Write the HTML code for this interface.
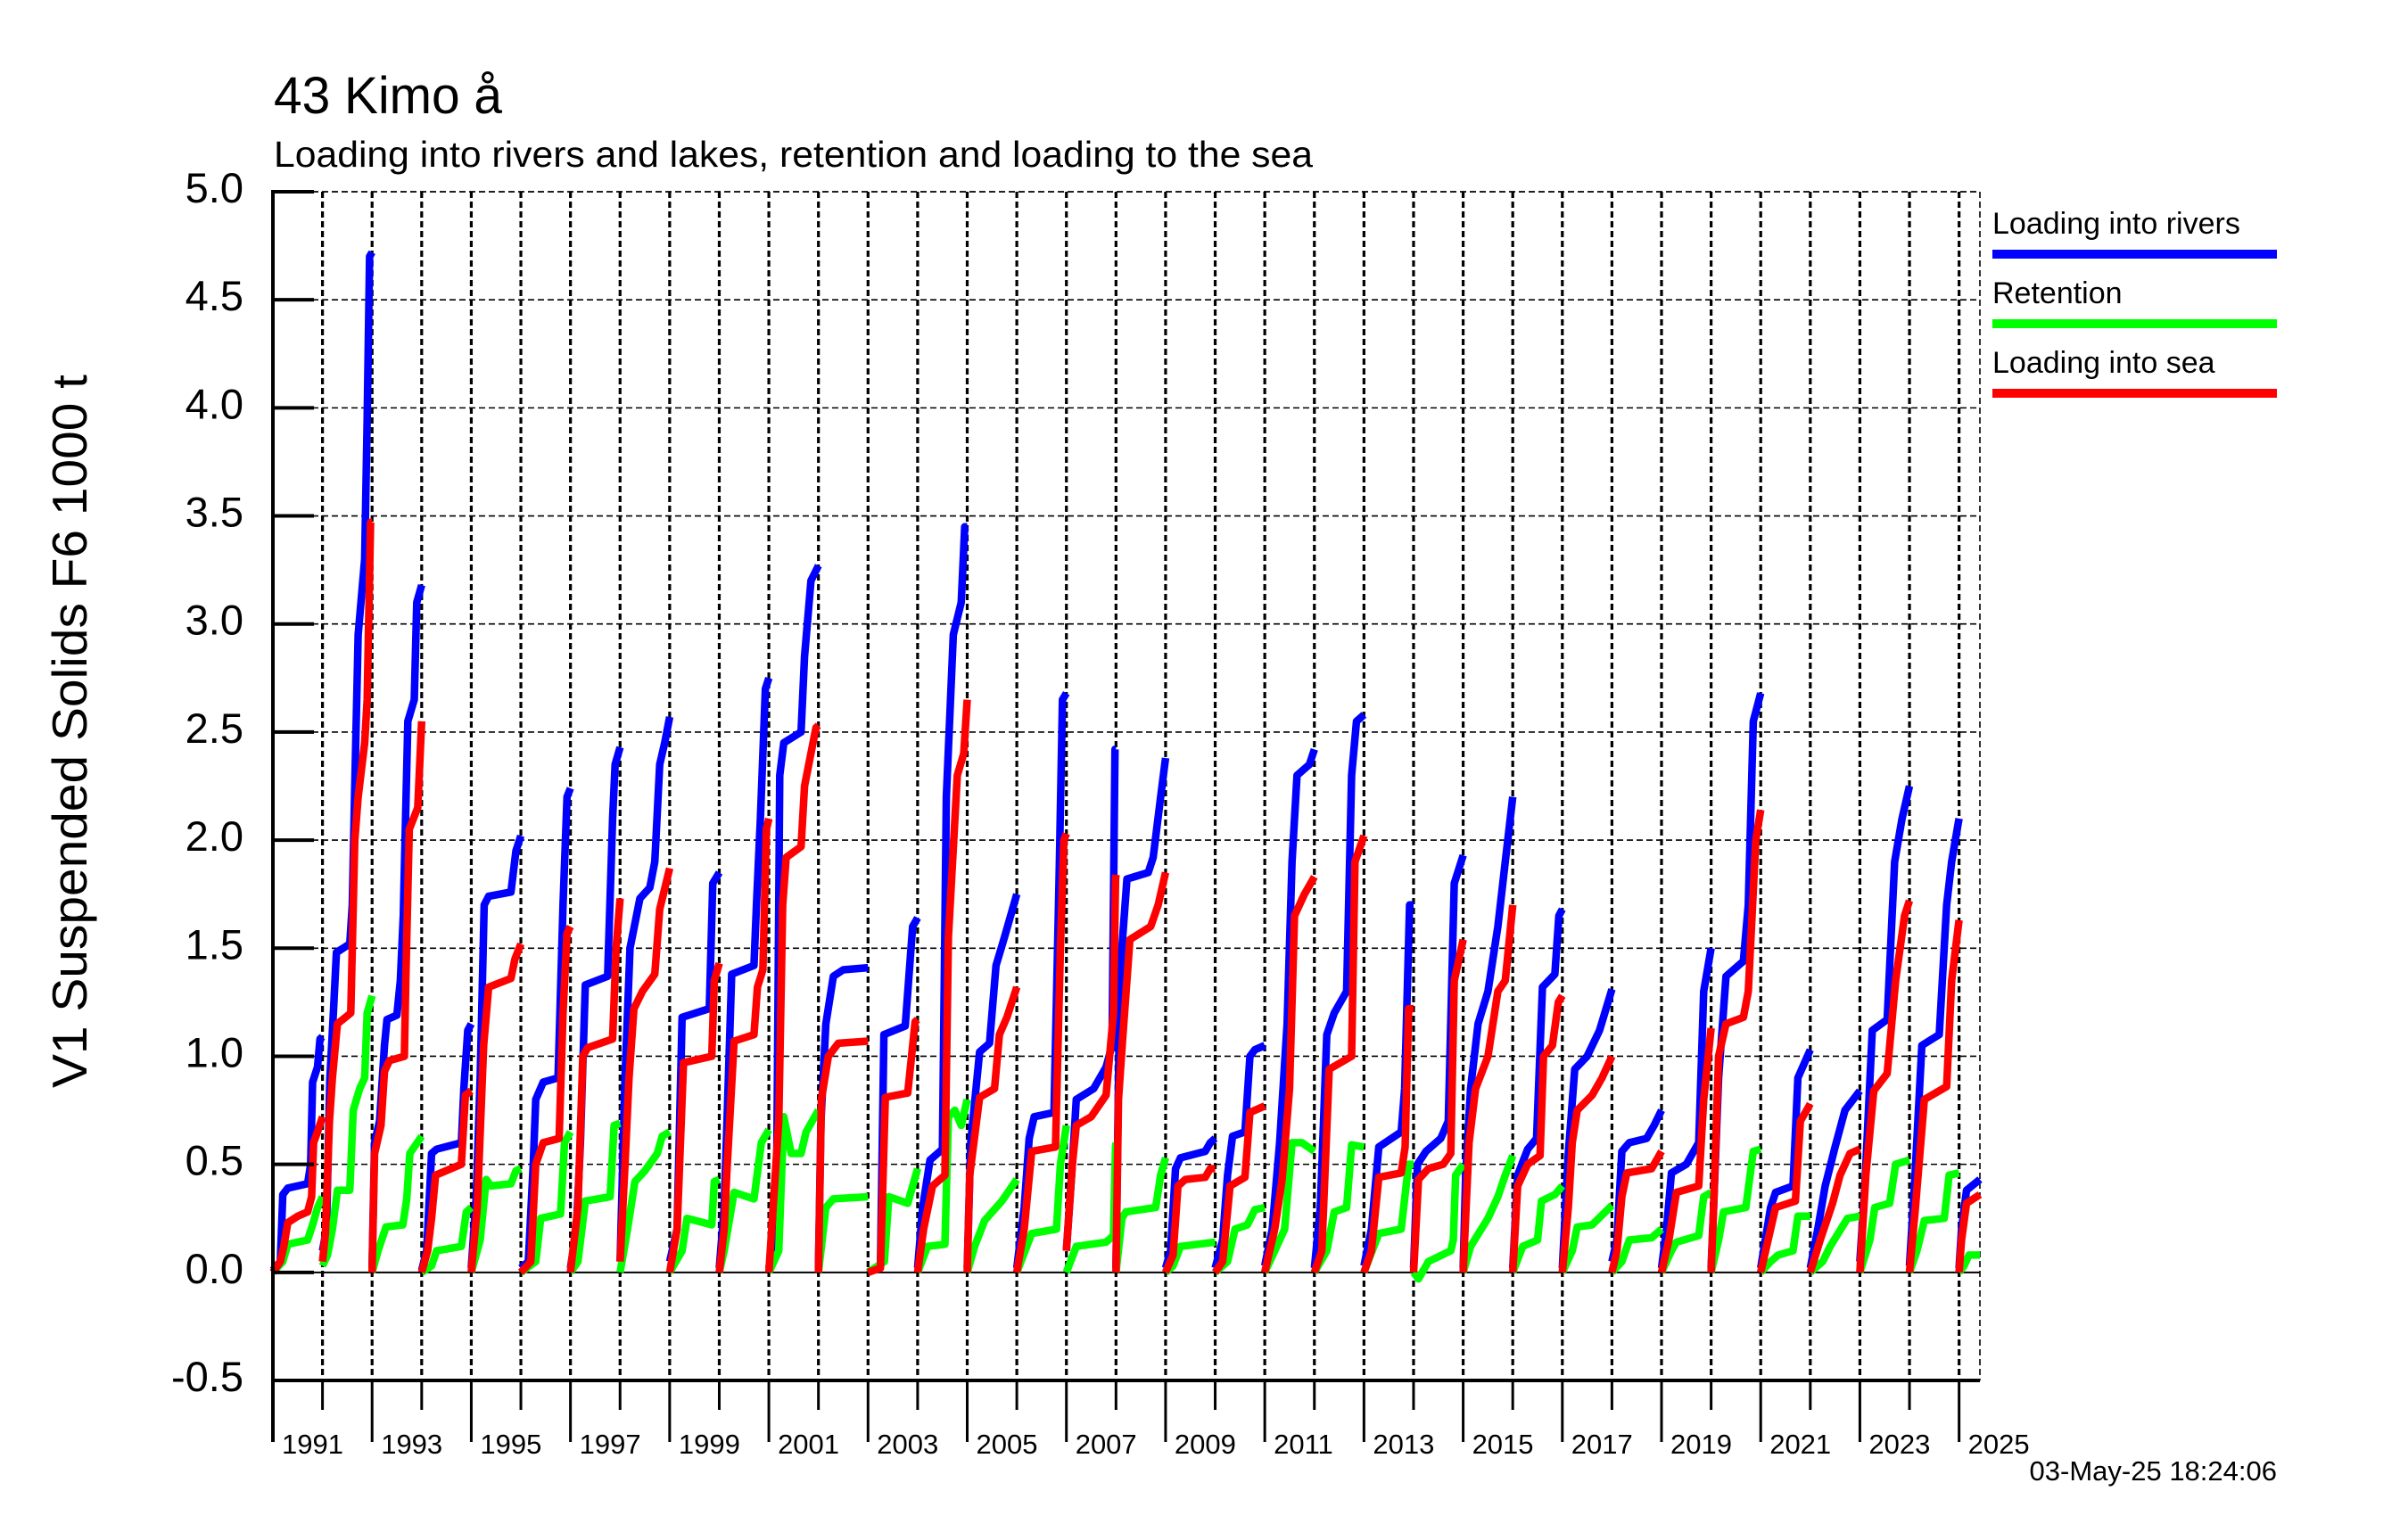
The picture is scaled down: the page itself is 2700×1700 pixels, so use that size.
<!DOCTYPE html>
<html>
<head>
<meta charset="utf-8">
<style>
html,body{margin:0;padding:0;background:#fff;}
svg{display:block;font-family:"Liberation Sans",Arial,sans-serif;}
</style>
</head>
<body>
<svg id="chart" width="2700" height="1700" viewBox="0 0 2700 1700" xmlns="http://www.w3.org/2000/svg">
  <rect x="0" y="0" width="2700" height="1700" fill="#fff"/>
  <text x="307" y="127" font-size="58" fill="#000" textLength="256" lengthAdjust="spacingAndGlyphs">43 Kimo å</text>
  <text x="307" y="187" font-size="41" fill="#000" textLength="1165" lengthAdjust="spacingAndGlyphs">Loading into rivers and lakes, retention and loading to the sea</text>
  <text transform="translate(97,820) rotate(-90)" text-anchor="middle" font-size="55" fill="#000" textLength="800" lengthAdjust="spacingAndGlyphs">V1 Suspended Solids F6 1000 t</text>
  <g id="grid"></g>
  <g id="series"></g>
  <g id="axes"></g>
  <g>
    <text x="2234" y="262" font-size="34" fill="#000">Loading into rivers</text>
    <rect x="2234" y="280" width="319" height="10" fill="#0000ff"/>
    <text x="2234" y="340" font-size="34" fill="#000">Retention</text>
    <rect x="2234" y="358" width="319" height="10" fill="#00ff00"/>
    <text x="2234" y="418" font-size="34" fill="#000">Loading into sea</text>
    <rect x="2234" y="436" width="319" height="10" fill="#ff0000"/>
  </g>
  <text x="2553" y="1660" text-anchor="end" font-size="31" fill="#000">03-May-25 18:24:06</text>
</svg>
<script>
// ---- data ----
const years = [1991,1992,1993,1994,1995,1996,1997,1998,1999,2000,2001,2002,2003,2004,2005,2006,2007,2008,2009,2010,2011,2012,2013,2014,2015,2016,2017,2018,2019,2020,2021,2022,2023,2024,2025];
const yTickValues = [-0.5,0.0,0.5,1.0,1.5,2.0,2.5,3.0,3.5,4.0,4.5,5.0];
const yTickLabels = ["-0.5","0.0","0.5","1.0","1.5","2.0","2.5","3.0","3.5","4.0","4.5","5.0"];
const xLabelYears = [1991,1993,1995,1997,1999,2001,2003,2005,2007,2009,2011,2013,2015,2017,2019,2021,2023,2025];
const xStart = 1991, xEnd = 2025.42;

// per-year cumulative series: [fraction of year, value in 1000 t]
const blueData = [
[[0,0.01],[0.15,0.05],[0.2,0.36],[0.3,0.39],[0.7,0.41],[0.76,0.5],[0.8,0.88],[0.9,0.95],[0.95,1.08],[1,1.09]],
[[0,0.1],[0.08,0.2],[0.15,0.9],[0.22,1.2],[0.28,1.48],[0.55,1.52],[0.6,1.7],[0.65,2.25],[0.72,2.95],[0.85,3.3],[0.9,3.95],[0.95,4.7],[1,4.72]],
[[0,0.02],[0.05,0.6],[0.15,0.7],[0.25,1.05],[0.3,1.17],[0.5,1.19],[0.57,1.35],[0.63,1.65],[0.72,2.55],[0.85,2.65],[0.9,3.1],[1,3.18]],
[[0,0.01],[0.1,0.1],[0.2,0.55],[0.3,0.57],[0.8,0.6],[0.85,0.85],[0.93,1.12],[1,1.15]],
[[0,0.02],[0.1,0.35],[0.18,0.9],[0.26,1.7],[0.35,1.74],[0.8,1.76],[0.9,1.95],[1,2.02]],
[[0,0.02],[0.15,0.05],[0.25,0.5],[0.3,0.8],[0.45,0.88],[0.75,0.9],[0.85,1.7],[0.93,2.2],[1,2.24]],
[[0,0.02],[0.12,0.2],[0.2,0.6],[0.3,1.33],[0.75,1.37],[0.85,2.1],[0.9,2.35],[1,2.43]],
[[0,0.05],[0.1,0.9],[0.2,1.5],[0.4,1.73],[0.6,1.78],[0.7,1.9],[0.8,2.35],[0.9,2.45],[1,2.57]],
[[0,0.05],[0.15,0.2],[0.25,1.18],[0.8,1.22],[0.87,1.8],[1,1.85]],
[[0,0.02],[0.1,0.3],[0.15,0.65],[0.25,1.38],[0.7,1.42],[0.75,1.7],[0.83,2.1],[0.93,2.7],[1,2.75]],
[[0,0.02],[0.15,0.2],[0.22,2.3],[0.3,2.45],[0.65,2.5],[0.72,2.85],[0.85,3.2],[1,3.27]],
[[0,0.02],[0.05,0.7],[0.15,1.15],[0.3,1.37],[0.5,1.4],[1,1.41]],
[[0,0],[0.25,0.03],[0.32,1.1],[0.75,1.14],[0.9,1.6],[1,1.64]],
[[0,0.02],[0.1,0.3],[0.25,0.52],[0.5,0.57],[0.58,2.2],[0.72,2.95],[0.88,3.1],[0.95,3.45],[1,3.45]],
[[0,0.02],[0.07,0.6],[0.25,1.02],[0.45,1.06],[0.58,1.42],[0.75,1.55],[1,1.75]],
[[0,0.02],[0.15,0.3],[0.25,0.62],[0.35,0.72],[0.75,0.74],[0.85,1.8],[0.92,2.65],[1,2.68]],
[[0,0.1],[0.12,0.5],[0.2,0.8],[0.55,0.85],[0.8,0.95],[0.92,1.05],[0.98,2.42],[1,2.42]],
[[0,0.02],[0.04,0.7],[0.08,1.38],[0.22,1.82],[0.65,1.85],[0.75,1.92],[0.9,2.2],[1,2.38]],
[[0,0.02],[0.1,0.1],[0.2,0.48],[0.3,0.53],[0.8,0.56],[0.9,0.6],[1,0.62]],
[[0,0.02],[0.15,0.15],[0.25,0.45],[0.35,0.63],[0.6,0.65],[0.7,1.0],[0.8,1.03],[1,1.05]],
[[0,0.03],[0.15,0.2],[0.3,0.6],[0.45,1.15],[0.55,1.9],[0.65,2.3],[0.9,2.35],[1,2.42]],
[[0,0.02],[0.12,0.3],[0.25,1.1],[0.4,1.2],[0.65,1.3],[0.75,2.3],[0.85,2.55],[1,2.58]],
[[0,0.03],[0.15,0.2],[0.3,0.58],[0.75,0.65],[0.82,0.85],[0.92,1.7],[1,1.7]],
[[0,0.02],[0.08,0.5],[0.25,0.56],[0.55,0.62],[0.7,0.7],[0.82,1.8],[1,1.93]],
[[0,0.02],[0.05,0.45],[0.15,0.85],[0.3,1.15],[0.5,1.3],[0.7,1.6],[0.85,1.9],[1,2.2]],
[[0,0.02],[0.1,0.45],[0.3,0.57],[0.48,0.62],[0.6,1.32],[0.85,1.38],[0.93,1.65],[1,1.68]],
[[0,0.02],[0.12,0.55],[0.25,0.94],[0.5,1.0],[0.75,1.12],[1,1.31]],
[[0,0.05],[0.1,0.15],[0.2,0.56],[0.35,0.6],[0.7,0.62],[0.85,0.68],[1,0.75]],
[[0,0.02],[0.1,0.2],[0.2,0.46],[0.5,0.5],[0.75,0.6],[0.85,1.3],[1,1.5]],
[[0,0.02],[0.05,0.3],[0.15,0.9],[0.3,1.37],[0.65,1.44],[0.75,1.7],[0.85,2.55],[1,2.68]],
[[0,0.02],[0.2,0.3],[0.3,0.37],[0.65,0.4],[0.75,0.9],[1,1.03]],
[[0,0.02],[0.15,0.2],[0.3,0.4],[0.5,0.58],[0.7,0.75],[1,0.84]],
[[0,0.05],[0.1,0.4],[0.25,1.12],[0.55,1.17],[0.7,1.9],[0.85,2.1],[1,2.25]],
[[0,0.03],[0.1,0.4],[0.25,1.05],[0.6,1.1],[0.75,1.7],[0.85,1.9],[1,2.1]],
[[0,0.02],[0.05,0.2],[0.15,0.38],[0.42,0.43]]
];
const greenData = [
[[0,0],[0.2,0.05],[0.3,0.13],[0.7,0.15],[0.8,0.22],[0.9,0.3],[1,0.35]],
[[0,0.03],[0.1,0.08],[0.2,0.2],[0.3,0.38],[0.55,0.38],[0.62,0.75],[0.75,0.85],[0.85,0.9],[0.9,1.2],[1,1.28]],
[[0,0],[0.12,0.1],[0.28,0.21],[0.62,0.22],[0.7,0.34],[0.76,0.55],[1,0.63]],
[[0,0],[0.2,0.03],[0.3,0.1],[0.8,0.12],[0.9,0.28],[1,0.3]],
[[0,0],[0.18,0.15],[0.3,0.43],[0.4,0.4],[0.8,0.41],[0.9,0.47],[1,0.48]],
[[0,0],[0.3,0.05],[0.4,0.25],[0.8,0.27],[0.88,0.6],[1,0.65]],
[[0,0],[0.15,0.05],[0.3,0.33],[0.8,0.35],[0.88,0.68],[1,0.69]],
[[0,0],[0.15,0.2],[0.3,0.42],[0.5,0.47],[0.75,0.55],[0.85,0.63],[1,0.65]],
[[0,0],[0.25,0.1],[0.35,0.25],[0.85,0.22],[0.9,0.42],[1,0.43]],
[[0,0],[0.1,0.1],[0.3,0.37],[0.7,0.34],[0.85,0.6],[1,0.66]],
[[0,0],[0.2,0.1],[0.3,0.72],[0.45,0.55],[0.65,0.55],[0.75,0.65],[1,0.75]],
[[0,0],[0.15,0.3],[0.3,0.34],[1,0.35]],
[[0,0],[0.33,0.05],[0.42,0.35],[0.8,0.32],[1,0.48]],
[[0,0],[0.2,0.12],[0.55,0.13],[0.62,0.72],[0.75,0.75],[0.88,0.68],[1,0.8]],
[[0,0],[0.15,0.12],[0.35,0.24],[0.7,0.33],[1,0.43]],
[[0,0],[0.3,0.18],[0.8,0.2],[0.88,0.5],[1,0.68]],
[[0,0],[0.2,0.12],[0.8,0.14],[0.95,0.17],[0.99,0.58],[1,0.6]],
[[0,0],[0.12,0.25],[0.2,0.28],[0.8,0.3],[0.9,0.45],[1,0.53]],
[[0,0],[0.15,0.03],[0.3,0.12],[1,0.14]],
[[0,0],[0.25,0.05],[0.4,0.2],[0.65,0.22],[0.8,0.29],[1,0.3]],
[[0,0],[0.2,0.1],[0.4,0.2],[0.55,0.6],[0.75,0.6],[1,0.56]],
[[0,0],[0.25,0.1],[0.4,0.28],[0.65,0.3],[0.75,0.59],[1,0.58]],
[[0,0],[0.3,0.18],[0.75,0.2],[0.9,0.5],[1,0.5]],
[[0,0],[0.1,-0.03],[0.3,0.05],[0.75,0.1],[0.8,0.15],[0.85,0.45],[1,0.5]],
[[0,0],[0.15,0.12],[0.5,0.25],[0.7,0.35],[0.85,0.45],[1,0.54]],
[[0,0],[0.2,0.12],[0.5,0.15],[0.58,0.33],[0.85,0.36],[1,0.4]],
[[0,0],[0.2,0.1],[0.3,0.21],[0.6,0.22],[1,0.31]],
[[0,0],[0.2,0.05],[0.35,0.15],[0.8,0.16],[1,0.2]],
[[0,0],[0.2,0.1],[0.3,0.14],[0.75,0.17],[0.85,0.35],[1,0.37]],
[[0,0],[0.15,0.15],[0.25,0.28],[0.7,0.3],[0.85,0.56],[1,0.57]],
[[0,0],[0.2,0.05],[0.35,0.08],[0.65,0.1],[0.75,0.26],[1,0.26]],
[[0,0],[0.25,0.05],[0.4,0.12],[0.75,0.25],[1,0.26]],
[[0,0],[0.2,0.15],[0.3,0.3],[0.6,0.32],[0.72,0.5],[1,0.52]],
[[0,0],[0.15,0.1],[0.3,0.24],[0.7,0.25],[0.8,0.45],[1,0.46]],
[[0,0],[0.1,0.03],[0.2,0.08],[0.42,0.08]]
];
const redData = [
[[0,0],[0.15,0.05],[0.22,0.12],[0.3,0.23],[0.5,0.26],[0.7,0.28],[0.78,0.35],[0.82,0.6],[0.9,0.65],[1,0.72]],
[[0,0.05],[0.06,0.18],[0.14,0.7],[0.2,0.9],[0.3,1.15],[0.57,1.2],[0.6,1.5],[0.65,2.0],[0.72,2.2],[0.85,2.45],[0.9,2.65],[0.97,3.47],[1,3.47]],
[[0,0],[0.05,0.55],[0.18,0.68],[0.25,0.93],[0.35,0.98],[0.65,1.0],[0.68,1.35],[0.75,2.05],[0.92,2.15],[1,2.55]],
[[0,0],[0.12,0.1],[0.2,0.25],[0.28,0.45],[0.8,0.5],[0.88,0.82],[1,0.84]],
[[0,0],[0.12,0.3],[0.25,1.05],[0.35,1.32],[0.8,1.36],[0.88,1.45],[1,1.52]],
[[0,0],[0.2,0.05],[0.3,0.5],[0.45,0.6],[0.77,0.62],[0.85,1.2],[0.93,1.57],[1,1.6]],
[[0,0],[0.15,0.3],[0.25,1.0],[0.35,1.04],[0.85,1.08],[0.92,1.5],[1,1.73]],
[[0,0.05],[0.1,0.5],[0.18,0.9],[0.28,1.22],[0.45,1.3],[0.7,1.38],[0.8,1.68],[1,1.87]],
[[0,0],[0.15,0.2],[0.28,0.97],[0.85,1.0],[0.9,1.35],[1,1.43]],
[[0,0],[0.1,0.2],[0.15,0.45],[0.3,1.07],[0.7,1.1],[0.77,1.32],[0.88,1.4],[0.95,2.05],[1,2.1]],
[[0,0],[0.2,0.7],[0.28,1.7],[0.35,1.92],[0.65,1.97],[0.72,2.25],[0.95,2.52],[1,2.53]],
[[0,0],[0.06,0.8],[0.2,1.0],[0.4,1.06],[1,1.07]],
[[0,0],[0.25,0.02],[0.35,0.81],[0.8,0.83],[0.95,1.16],[1,1.17]],
[[0,0],[0.12,0.2],[0.3,0.4],[0.55,0.45],[0.62,1.55],[0.8,2.3],[0.93,2.4],[1,2.65]],
[[0,0],[0.05,0.45],[0.25,0.81],[0.55,0.85],[0.65,1.1],[0.8,1.18],[1,1.32]],
[[0,0],[0.15,0.2],[0.3,0.56],[0.78,0.58],[0.88,1.5],[0.95,2.0],[1,2.03]],
[[0,0.1],[0.12,0.5],[0.2,0.68],[0.5,0.72],[0.8,0.82],[0.95,1.2],[0.99,1.82],[1,1.84]],
[[0,0],[0.05,0.8],[0.13,1.07],[0.28,1.54],[0.7,1.6],[0.85,1.7],[1,1.85]],
[[0,0],[0.15,0.08],[0.25,0.4],[0.4,0.43],[0.8,0.44],[0.9,0.48],[1,0.48]],
[[0,0],[0.15,0.05],[0.3,0.4],[0.6,0.44],[0.7,0.74],[1,0.77]],
[[0,0],[0.2,0.2],[0.35,0.43],[0.5,0.85],[0.6,1.65],[0.8,1.75],[1,1.83]],
[[0,0],[0.15,0.1],[0.3,0.94],[0.75,1.0],[0.82,1.9],[1,2.02]],
[[0,0],[0.15,0.1],[0.3,0.44],[0.75,0.46],[0.83,0.58],[0.9,1.22],[1,1.22]],
[[0,0],[0.1,0.43],[0.3,0.48],[0.6,0.5],[0.75,0.55],[0.82,1.35],[1,1.54]],
[[0,0],[0.03,0.15],[0.12,0.6],[0.25,0.85],[0.5,1.0],[0.7,1.3],[0.85,1.35],[1,1.7]],
[[0,0],[0.1,0.4],[0.3,0.5],[0.55,0.54],[0.62,1.0],[0.8,1.05],[0.92,1.25],[1,1.28]],
[[0,0],[0.12,0.3],[0.2,0.6],[0.3,0.75],[0.6,0.82],[0.8,0.9],[1,1.0]],
[[0,0],[0.1,0.1],[0.2,0.35],[0.3,0.46],[0.8,0.48],[1,0.56]],
[[0,0],[0.15,0.15],[0.3,0.37],[0.75,0.4],[0.85,0.8],[1,1.13]],
[[0,0],[0.05,0.3],[0.15,1.0],[0.3,1.15],[0.65,1.18],[0.75,1.3],[0.9,2.0],[1,2.14]],
[[0,0],[0.2,0.2],[0.3,0.3],[0.7,0.33],[0.8,0.7],[1,0.78]],
[[0,0],[0.2,0.15],[0.45,0.32],[0.6,0.45],[0.8,0.55],[1,0.57]],
[[0,0],[0.12,0.45],[0.28,0.84],[0.55,0.92],[0.72,1.35],[0.9,1.65],[1,1.72]],
[[0,0],[0.12,0.3],[0.3,0.8],[0.75,0.86],[0.85,1.35],[1,1.63]],
[[0,0],[0.05,0.15],[0.15,0.32],[0.42,0.36]]
];

// ---- axes ----
const PL = 306, PR = 2220, PT = 215, PB = 1548;
const yMin = -0.5, yMax = 5.0;
function xScale(t){ return PL + (t - xStart) / (xEnd - xStart) * (PR - PL); }
function yScale(v){ return PB - (v - yMin) / (yMax - yMin) * (PB - PT); }

const NS = "http://www.w3.org/2000/svg";
function mk(tag, parent){ const e = document.createElementNS(NS, tag); parent.appendChild(e); return e; }
const grid = document.getElementById("grid");
const axes = document.getElementById("axes");
const series = document.getElementById("series");

// horizontal gridlines
yTickValues.forEach((v, i) => {
  const y = yScale(v);
  if (v > yMin) {
    const l = mk("line", grid);
    
    
    l.setAttribute("x1", PL); l.setAttribute("x2", PR);
    l.setAttribute("y1", y); l.setAttribute("y2", y);
    l.setAttribute("stroke", "#000");
    l.setAttribute("stroke-width", v === 0 ? 2 : 1.6);
    if (v !== 0) l.setAttribute("stroke-dasharray", "7 4");
  }
  const tk = mk("line", axes);
  
  
  tk.setAttribute("x1", PL); tk.setAttribute("x2", PL + 46);
  tk.setAttribute("y1", y); tk.setAttribute("y2", y);
  tk.setAttribute("stroke", "#000"); tk.setAttribute("stroke-width", 4);
  const t = mk("text", axes);
  
  
  t.setAttribute("x", 273); t.setAttribute("y", y + 12);
  t.setAttribute("text-anchor", "end"); t.setAttribute("font-size", 47);
  t.textContent = yTickLabels[i];
});

// vertical gridlines and year ticks
years.forEach(yr => {
  const x = xScale(yr);
  if (yr > xStart) {
    const g = mk("line", grid);
    
    
    g.setAttribute("x1", x); g.setAttribute("x2", x);
    g.setAttribute("y1", PT); g.setAttribute("y2", PB);
    g.setAttribute("stroke", "#000"); g.setAttribute("stroke-width", 3.2);
    g.setAttribute("stroke-dasharray", "7 4");
  }
  const odd = (yr % 2) === 1;
  const tk = mk("line", axes);
  
  
  tk.setAttribute("x1", x); tk.setAttribute("x2", x);
  tk.setAttribute("y1", PB); tk.setAttribute("y2", odd ? 1617 : 1581);
  tk.setAttribute("stroke", "#000"); tk.setAttribute("stroke-width", 3);
});
xLabelYears.forEach(yr => {
  const t = mk("text", axes);
  
  
  t.setAttribute("x", xScale(yr) + 10); t.setAttribute("y", 1630);
  t.setAttribute("font-size", 31);
  t.textContent = String(yr);
});

// plot frame
[[PL, PT, PR, PT, "7 4", 1.6], [PR, PT, PR, PB, "7 4", 1.6]].forEach(s => {
  const l = mk("line", grid);
  
  
  l.setAttribute("x1", s[0]); l.setAttribute("y1", s[1]); l.setAttribute("x2", s[2]); l.setAttribute("y2", s[3]);
  l.setAttribute("stroke", "#000"); l.setAttribute("stroke-width", s[5]); l.setAttribute("stroke-dasharray", s[4]);
});
const ya = mk("line", axes);


ya.setAttribute("x1", PL); ya.setAttribute("x2", PL); ya.setAttribute("y1", PT - 2); ya.setAttribute("y2", 1617);
ya.setAttribute("stroke", "#000"); ya.setAttribute("stroke-width", 4);
const xa = mk("line", axes);


xa.setAttribute("x1", PL); xa.setAttribute("x2", PR); xa.setAttribute("y1", PB); xa.setAttribute("y2", PB);
xa.setAttribute("stroke", "#000"); xa.setAttribute("stroke-width", 4);

// series
function drawSeries(data, color, name){
  data.forEach((pts, i) => {
    const yr = years[i];
    const d = pts.map((p, j) => (j ? "L" : "M") + xScale(yr + p[0]).toFixed(1) + "," + yScale(p[1]).toFixed(1)).join("");
    const path = mk("path", series);
    
    
    path.setAttribute("d", d);
    path.setAttribute("fill", "none");
    path.setAttribute("stroke", color);
    path.setAttribute("stroke-width", 8.5);
    path.setAttribute("stroke-linejoin", "round");
  });
}
drawSeries(blueData, "#0000ff", "series-loading-into-rivers");
drawSeries(greenData, "#00ff00", "series-retention");
drawSeries(redData, "#ff0000", "series-loading-into-sea");
</script>
</body>
</html>
